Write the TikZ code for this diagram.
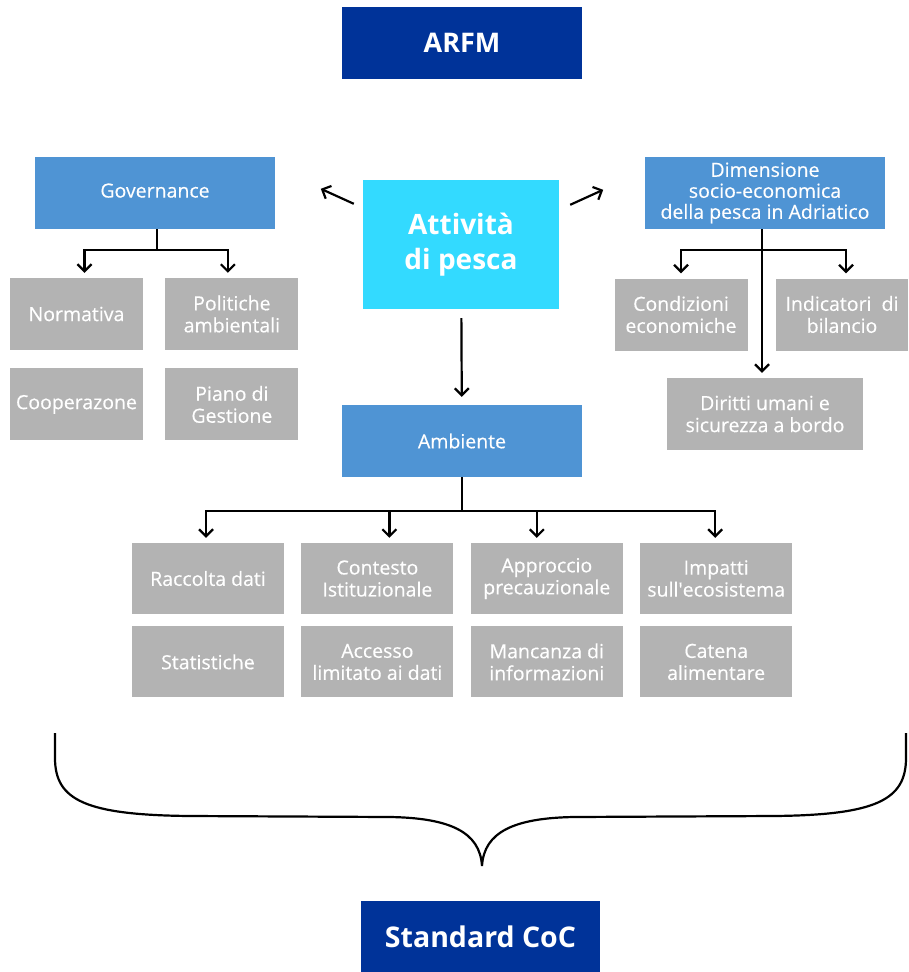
\documentclass[tikz,border=0pt]{standalone}
\usepackage{fontspec}
\setmainfont{Open Sans}
\newfontfamily\boxfont[FakeBold=0.35]{Open Sans}
\usepackage{tikz}
\usetikzlibrary{arrows.meta, positioning, calc}
\definecolor{arfmblue}{RGB}{0,51,153}
\definecolor{topicblue}{RGB}{79,148,212}
\definecolor{corecyan}{RGB}{51,218,255}
\definecolor{itemgrey}{RGB}{179,179,179}
\tikzstyle{headbox} = [rectangle, minimum width=240pt, minimum height=72pt, inner sep=0pt, align=center, fill=arfmblue, text=white, font=\fontsize{27}{30}\selectfont\bfseries]
\tikzstyle{topicbox} = [rectangle, minimum width=240pt, minimum height=72pt, inner sep=0pt, align=center, fill=topicblue, text=white, font=\boxfont\fontsize{19.5}{21}\selectfont]
\tikzstyle{corebox} = [rectangle, minimum width=196pt, minimum height=129pt, inner sep=0pt, align=center, fill=corecyan, text=white, font=\fontsize{28}{35}\selectfont\bfseries]
\tikzstyle{itembox} = [rectangle, minimum width=133pt, minimum height=72pt, inner sep=0pt, align=center, fill=itemgrey, text=white, font=\boxfont\fontsize{19.5}{22}\selectfont]
\tikzstyle{rowbox} = [itembox, minimum width=152pt, minimum height=71pt]
\tikzstyle{line} = [line width=2.2pt, -{Straight Barb[length=7pt, width=14pt]}, shorten >=5pt]

\begin{document}
\begin{tikzpicture}[x=1pt, y=-1pt]
                  \fill[white] (0,0) rectangle (908,972);
                  \useasboundingbox (0,0) rectangle (908,972);
                  \node (arfm) [headbox] at (462,43) {ARFM};
                  \node (act) [corebox, text depth=6pt] at (461,244.5) {Attività\\di pesca};
                  \node (gov) [topicbox, text depth=5pt] at (155,193) {Governance};
                  \node (dim) [topicbox] at (765,193) {Dimensione\\socio-economica\\della pesca in Adriatico};
                  \node (norm) [itembox] at (76.5,314) {Normativa};
                  \node (pol) [itembox, right=22pt of norm] {Politiche\\ambientali};
                  \node (coop) [itembox, below=18pt of norm] {Cooperazone};
                  \node (piano) [itembox, below=18pt of pol] {Piano di\\Gestione};
                  \node (cond) [itembox] at (681,314.5) {Condizioni\\economiche};
                  \node (ind) [itembox, minimum width=132pt] at (842,314.5) {Indicatori~ di\\bilancio};
                  \node (dir) [itembox, minimum width=196pt] at (765,414) {Diritti umani e\\sicurezza a bordo};
                  \node (amb) [topicbox] at (462,441) {Ambiente};
                  \node (racc) [rowbox] at (208,578.5) {Raccolta dati};
                  \node (cont) [rowbox, right=17pt of racc] {Contesto\\Istituzionale};
                  \node (appr) [rowbox, right=17pt of cont] {Approccio\\precauzionale};
                  \node (imp) [rowbox, right=17pt of appr] {Impatti\\sull\textquotesingle ecosistema};
                  \node (stat) [rowbox, below=12pt of racc] {Statistiche};
                  \node (acc) [rowbox, below=12pt of cont] {Accesso\\limitato ai dati};
                  \node (manc) [rowbox, below=12pt of appr] {Mancanza di\\informazioni};
                  \node (cat) [rowbox, below=12pt of imp] {Catena\\alimentare};
                  \node (coc) [headbox, minimum width=239pt, minimum height=71pt, font=\fontsize{28.5}{32}\selectfont\bfseries] at (480.5,936.5) {Standard CoC};

                  % arrows out of the core box
                  \draw [line, shorten >=0pt] ($(act.north west)+(-9,24)$) -- ++(-33,-15);
                  \draw [line, shorten >=0pt] ($(act.north east)+(11,25)$) -- ++(33,-15);
                  \draw [line, shorten <=9pt, shorten >=8pt] (act) -- (amb);

                  % governance
                  \draw [line width=2.2pt] ([xshift=2pt]gov.south) -- ++(0,21) coordinate (gj);
                  \draw [line] (gj) -| ([xshift=8pt]norm.north);
                  \draw [line] (gj) -| ([xshift=-4pt]pol.north);

                  % dimensione socio-economica
                  \draw [line] ([xshift=-3pt]dim.south) -- ([xshift=-3pt]dir.north);
                  \draw [line width=2.2pt] ([xshift=-3pt]dim.south) ++(0,21) coordinate (dj);
                  \draw [line] (dj) -| (cond.north);
                  \draw [line] (dj) -| ([xshift=4pt]ind.north);

                  % ambiente
                  \draw [line width=2.2pt] (amb.south) -- ++(0,34) coordinate (aj);
                  \draw [line] (aj) -| ([xshift=-2pt]racc.north);
                  \draw [line] (aj) -| ([xshift=12pt]cont.north);
                  \draw [line] (aj) -| ([xshift=-10pt]appr.north);
                  \draw [line] (aj) -| ([xshift=-1pt]imp.north);

                  % brace
                  \draw [line width=2.2pt] (55,733) -- (55,758) .. controls (55,800) and (85,815) .. (190,816) -- (390,817) .. controls (450,818) and (480,832) .. (482,866) .. controls (484,832) and (514,818) .. (574,817) -- (774,816) .. controls (876,815) and (906,800) .. (906,758) -- (906,733);
              \end{tikzpicture}
\end{document}
